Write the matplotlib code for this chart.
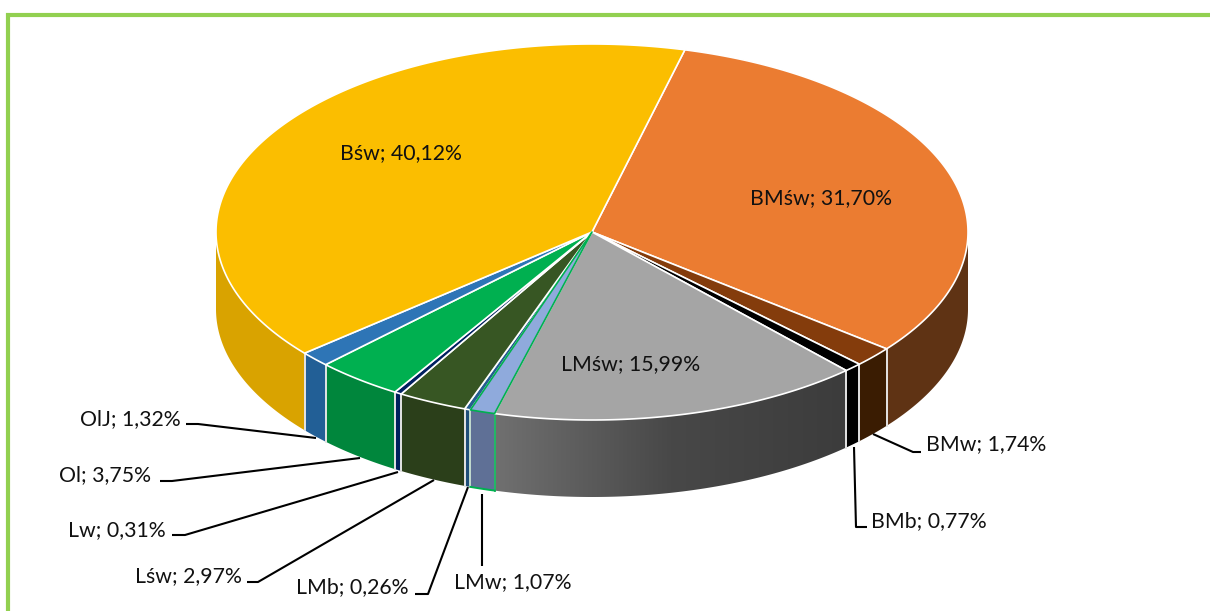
import numpy as np
import matplotlib
matplotlib.use("Agg")
import matplotlib.pyplot as plt
from matplotlib.colors import LinearSegmentedColormap
from matplotlib.patches import Polygon

names = ["BMśw", "BMw", "BMb", "LMśw", "LMw", "LMb", "Lśw", "Lw", "Ol", "OlJ", "Bśw"]
values = [31.70, 1.74, 0.77, 15.99, 1.07, 0.26, 2.97, 0.31, 3.75, 1.32, 40.12]
top_colors = ["#eb7c31", "#843c0c", "#000000", "#a5a5a5", "#8faadc", "#255e91",
              "#375623", "#002060", "#00b050", "#2e75b6", "#fbbe00"]
wall_colors = ["#5f3314", "#3a1c02", "#000000", "#555555", "#5f7096", "#1f4e79",
               "#2b3f1a", "#001f5c", "#00863c", "#225f96", "#d9a300"]
edge_colors = ["white", "white", "white", "white", "#00b050", "white",
               "white", "white", "white", "white", "white"]

# layout in pixels of the 1210x611 canvas
CX, CY, RX, RY, DEPTH = 592, 232, 376, 188, 77
START = 14.3
label_pos = {"BMśw": (821, 198, "center"), "LMśw": (631, 364, "center"), "Bśw": (401, 153, "center"),
             "BMw": (926, 444, "left"), "BMb": (871, 521, "left"), "LMw": (454, 582, "left"),
             "LMb": (296, 587, "left"), "Lśw": (135, 576, "left"), "Lw": (68, 530, "left"),
             "Ol": (59, 475, "left"), "OlJ": (80, 419, "left")}
leaders = {"OlJ": [(186, 424), (198, 424), (316, 438)],
           "Ol": [(160, 481), (172, 481), (360, 458)],
           "Lw": [(172, 535), (185, 535), (398, 472)],
           "Lśw": [(247, 582), (258, 582), (434, 480)],
           "LMb": [(415, 594), (428, 594), (468, 487)],
           "LMw": [(482, 494), (482, 566)],
           "BMw": [(873, 434), (913, 452), (921, 452)],
           "BMb": [(854, 447), (856, 527), (867, 527)]}

fig = plt.figure(figsize=(12.1, 6.11), dpi=100)
ax = fig.add_axes([0, 0, 1, 1])
ax.set_xlim(0, 1210)
ax.set_ylim(611, 0)
ax.axis("off")


def rim(a0, a1):
    t = np.radians(np.linspace(a0, a1, max(int(abs(a1 - a0) * 3), 2)))
    return CX + RX * np.sin(t), CY - RY * np.cos(t)


edges = START + np.cumsum([0] + values) * 360 / sum(values)

# side walls
for i in range(len(values)):
    a0, a1 = max(edges[i], 90), min(edges[i + 1], 270)
    if a1 <= a0:
        continue
    x, y = rim(a0, a1)
    px = np.r_[x, x[::-1]]
    py = np.r_[y, y[::-1] + DEPTH]
    if names[i] == "LMśw":
        cmap = LinearSegmentedColormap.from_list("g", ["#3c3c3c", "#484848", "#707070"])
        poly = Polygon(np.c_[px, py], closed=True, fc="none", ec="none", transform=ax.transData)
        ax.add_patch(poly)
        im = ax.imshow(np.linspace(0, 1, 256)[None, :], cmap=cmap, aspect="auto",
                       extent=[x.max(), x.min(), py.max(), py.min()], zorder=1)
        im.set_clip_path(poly)
        ax.set_xlim(0, 1210)
        ax.set_ylim(611, 0)
    else:
        ax.fill(px, py, fc=wall_colors[i], ec="none", zorder=1)
    line_col = "#e4e4e4" if edge_colors[i] == "white" else edge_colors[i]
    for a, xx, yy in ((a0, x[0], y[0]), (a1, x[-1], y[-1])):
        if a not in (90, 270):
            ax.plot([xx, xx], [yy, yy + DEPTH], color=line_col, lw=1.2, zorder=2)
    if edge_colors[i] != "white":
        ax.plot(x, y + DEPTH, color=edge_colors[i], lw=1.4, zorder=3)

# top faces
order = [i for i in range(len(values)) if edge_colors[i] == "white"] + \
        [i for i in range(len(values)) if edge_colors[i] != "white"]
for i in order:
    x, y = rim(edges[i], edges[i + 1])
    ax.fill(np.r_[CX, x], np.r_[CY, y], fc=top_colors[i], ec=edge_colors[i],
            lw=1.2, joinstyle="round", zorder=4 + (edge_colors[i] != "white"))

# leader lines
for pts in leaders.values():
    p = np.array(pts)
    ax.plot(p[:, 0], p[:, 1], color="black", lw=1.5, zorder=6, solid_capstyle="butt")

# labels
for n, v in zip(names, values):
    lx, ly, ha = label_pos[n]
    ax.text(lx, ly, f"{n}; {v:.2f}%".replace(".", ","), ha=ha, va="center",
            family="Lato", fontsize=15.3, color="#111111", zorder=7)

# green frame
ax.plot([8, 8, 1210], [611, 15, 15], color="#92d050", lw=3, solid_joinstyle="miter", zorder=8,
        clip_on=False)

fig.savefig("out.png", dpi=100)
